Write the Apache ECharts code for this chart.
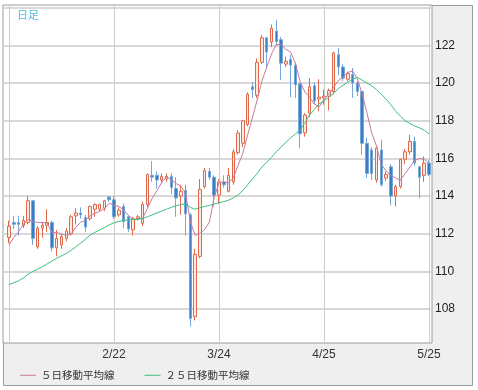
<!DOCTYPE html>
<html><head><meta charset="utf-8">
<script src="https://cdn.jsdelivr.net/npm/echarts@6/dist/echarts.min.js"></script>
<style>html,body{margin:0;padding:0;background:#fff}#c{width:478px;height:390px}</style>
</head><body><div id="c"></div>
<script>
// ---- data ----
const opens = [111.8,112.6,112.6,112.45,112.6,113.75,111.3,112.3,112.45,112.6,111.25,111.4,111.75,112.0,112.95,113.1,112.85,112.8,113.3,113.3,113.35,113.95,113.8,113.0,113.45,112.9,112.2,112.8,112.55,113.55,115.1,115.1,114.85,114.9,115.05,114.4,114.0,114.3,113.0,107.6,110.8,114.5,115.3,115.0,114.05,114.75,114.25,114.75,116.3,116.8,117.8,119.8,119.35,121.1,122.4,122.18,122.75,122.3,121.0,121.25,120.95,119.95,117.35,118.4,119.85,119.15,119.2,119.3,119.55,121.5,120.85,120.2,120.45,120.0,119.55,116.8,116.45,114.85,116.45,114.95,115.55,114.0,114.5,115.95,116.35,116.9,115.55,115.1,115.75];
const closes = [112.4,112.5,112.5,112.7,113.75,111.75,112.3,112.45,112.6,111.25,111.75,111.85,112.15,112.9,113.1,113.0,112.35,113.45,113.55,113.55,113.75,113.8,112.9,113.25,112.65,112.25,112.8,112.9,113.55,115.15,115.0,114.85,115.03,115.05,114.45,113.9,114.25,113.05,107.5,110.9,114.35,115.35,115.0,114.05,114.75,114.6,115.1,116.35,117.35,118.0,119.4,119.65,121.1,122.4,121.65,122.9,122.2,121.05,121.15,120.95,119.9,117.3,118.3,119.8,119.05,119.25,119.3,119.6,121.6,120.85,120.25,120.5,120.0,119.55,116.8,115.2,115.2,116.55,114.6,115.15,114.0,114.5,115.95,116.35,116.9,115.75,115.0,115.75,115.15];
const highs = [112.7,112.95,112.95,112.95,114.0,113.8,112.4,112.6,113.3,112.7,112.2,112.0,112.3,113.0,113.35,113.4,113.0,113.5,113.6,113.6,113.8,114.0,114.0,113.4,113.6,113.0,112.9,113.0,113.7,115.2,115.85,115.3,115.2,115.2,115.2,115.0,114.6,114.6,113.1,111.2,114.9,115.5,115.5,115.1,114.9,115.1,115.5,116.5,117.5,118.05,119.5,120.05,121.3,122.55,122.45,123.1,123.35,122.45,121.4,121.5,121.1,120.0,118.4,120.25,120.05,120.2,119.65,119.7,121.65,121.85,121.0,120.6,120.8,120.1,119.6,117.1,116.6,116.6,117.0,115.3,115.7,114.6,116.0,116.5,117.25,117.15,115.6,116.1,115.9];
const lows = [111.5,112.25,111.9,112.3,112.5,111.4,111.2,111.8,112.1,111.05,110.8,111.2,111.6,111.9,112.5,112.8,112.1,112.7,112.9,113.2,113.2,113.7,112.8,112.9,112.3,112.1,111.9,112.7,112.4,113.4,114.75,114.4,114.7,114.75,114.1,112.9,113.0,111.9,107.07,107.4,110.7,114.4,114.85,113.45,113.6,114.45,114.2,114.6,116.2,116.6,117.7,119.2,119.2,121.0,120.85,121.9,122.0,120.15,120.85,119.25,119.2,116.55,117.15,118.2,118.85,118.5,118.85,118.55,119.4,120.4,120.1,120.1,119.2,119.3,116.2,114.95,114.85,114.7,114.5,114.8,113.5,113.45,114.4,115.7,116.2,115.6,113.9,114.75,115.05];
const ma5 = [111.4,111.8,112.1,112.5,112.77,112.64,112.6,112.59,112.57,112.07,112.07,111.98,111.92,111.98,112.35,112.6,112.7,112.96,113.09,113.18,113.33,113.62,113.51,113.45,113.27,112.97,112.77,112.77,112.83,113.33,113.88,114.29,114.72,115.02,114.88,114.66,114.54,114.14,112.63,111.92,112.01,112.23,112.62,113.93,114.7,114.75,114.7,114.97,115.63,116.28,117.24,118.15,119.1,120.11,120.84,121.54,122.05,122.04,121.79,121.65,121.05,120.07,119.52,119.25,118.87,118.74,119.14,119.4,119.76,120.12,120.32,120.56,120.64,120.23,119.42,118.41,117.35,116.66,115.67,115.34,115.1,114.96,114.84,115.19,115.54,115.89,115.99,115.95,115.71];
const ma25 = [109.3,109.4,109.5,109.65,109.85,110.0,110.12,110.25,110.4,110.55,110.7,110.83,110.95,111.12,111.3,111.5,111.7,111.93,112.07,112.2,112.33,112.47,112.58,112.65,112.7,112.73,112.75,112.77,112.82,112.9,113.0,113.1,113.2,113.3,113.4,113.48,113.55,113.6,113.4,113.3,113.38,113.45,113.5,113.58,113.65,113.7,113.78,113.9,114.05,114.3,114.6,114.9,115.2,115.55,115.8,116.05,116.35,116.6,116.85,117.08,117.3,117.5,117.9,118.3,118.6,118.9,119.05,119.25,119.45,119.7,119.88,120.05,120.2,120.3,120.15,120.0,119.85,119.65,119.4,119.15,118.85,118.5,118.25,118.0,117.85,117.72,117.62,117.5,117.3];
const gridIdx = [0, 22, 44, 66, 88];
const labelIdx = [22, 44, 66, 88];
const labelText = ['2/22', '3/24', '4/25', '5/25'];
const yGrid = [108, 110, 112, 114, 116, 118, 120, 122, 124];
const yLabels = [108, 110, 112, 114, 116, 118, 120, 122];
const ma5Name = '５日移動平均線';
const ma25Name = '２５日移動平均線';
const caption = '日足';

// ---- build ----
const candleData = opens.map((o, i) => [i, o, closes[i], lows[i], highs[i]]);
const ma5Data = ma5.map((v, i) => [i, v]);
const ma25Data = ma25.map((v, i) => [i, v]);

const chart = echarts.init(document.getElementById('c'), null, {renderer: 'canvas'});
const cjk = '"Noto Sans CJK JP", "Noto Sans", sans-serif';
const num = '"Liberation Sans", "DejaVu Sans", sans-serif';
chart.setOption({
  animation: false,
  backgroundColor: '#ffffff',
  graphic: [
    {type: 'rect', z: -10, silent: true, shape: {x: 3.5, y: 5.5, width: 469, height: 380},
     style: {fill: '#efefef', stroke: '#9c9c9c', lineWidth: 1}},
    {type: 'text', z: 10, left: 17, top: 9, silent: true,
     style: {text: caption, fill: '#4fb8e8', font: '11px ' + cjk}}
  ],
  legend: {
    data: [ma5Name, ma25Name], left: 15, top: 365, icon: 'rect', itemWidth: 16, itemHeight: 1,
    itemGap: 30, textStyle: {fontSize: 10.5, color: '#333', fontFamily: cjk}
  },
  grid: {left: 3, top: 5, width: 429, height: 338, show: true, backgroundColor: '#ffffff',
         borderColor: '#9c9c9c', borderWidth: 1, containLabel: false},
  xAxis: {
    type: 'value', min: -1.257, max: 88.63,
    axisLine: {show: false},
    axisTick: {show: false, customValues: gridIdx},
    splitLine: {show: true, lineStyle: {color: '#cdcdcd', width: 1}},
    axisLabel: {customValues: labelIdx, margin: 6, color: '#333', fontSize: 12, fontFamily: num,
      formatter: v => labelText[labelIdx.indexOf(Math.round(v))] || ''}
  },
  yAxis: {
    type: 'value', position: 'right', min: 106.2, max: 124.14, scale: true,
    axisLine: {show: false},
    axisTick: {show: false, customValues: yGrid},
    splitLine: {show: true, lineStyle: {color: '#d8d8d8', width: 2}},
    axisLabel: {customValues: yLabels, margin: 3, color: '#222', fontSize: 12, fontFamily: num}
  },
  series: [
    {type: 'candlestick', name: 'price', data: candleData, barWidth: 3,
     itemStyle: {color: '#fde9e2', borderColor: '#e0694a', color0: '#3b7dc0', borderColor0: '#74a8da', borderWidth: 1}},
    {type: 'line', name: ma5Name, data: ma5Data, showSymbol: false, symbol: 'none',
     lineStyle: {color: '#c77a9e', width: 1}, itemStyle: {color: '#c77a9e'}, z: 3},
    {type: 'line', name: ma25Name, data: ma25Data, showSymbol: false, symbol: 'none',
     lineStyle: {color: '#3cbf7e', width: 1}, itemStyle: {color: '#3cbf7e'}, z: 3}
  ]
});
</script></body></html>
